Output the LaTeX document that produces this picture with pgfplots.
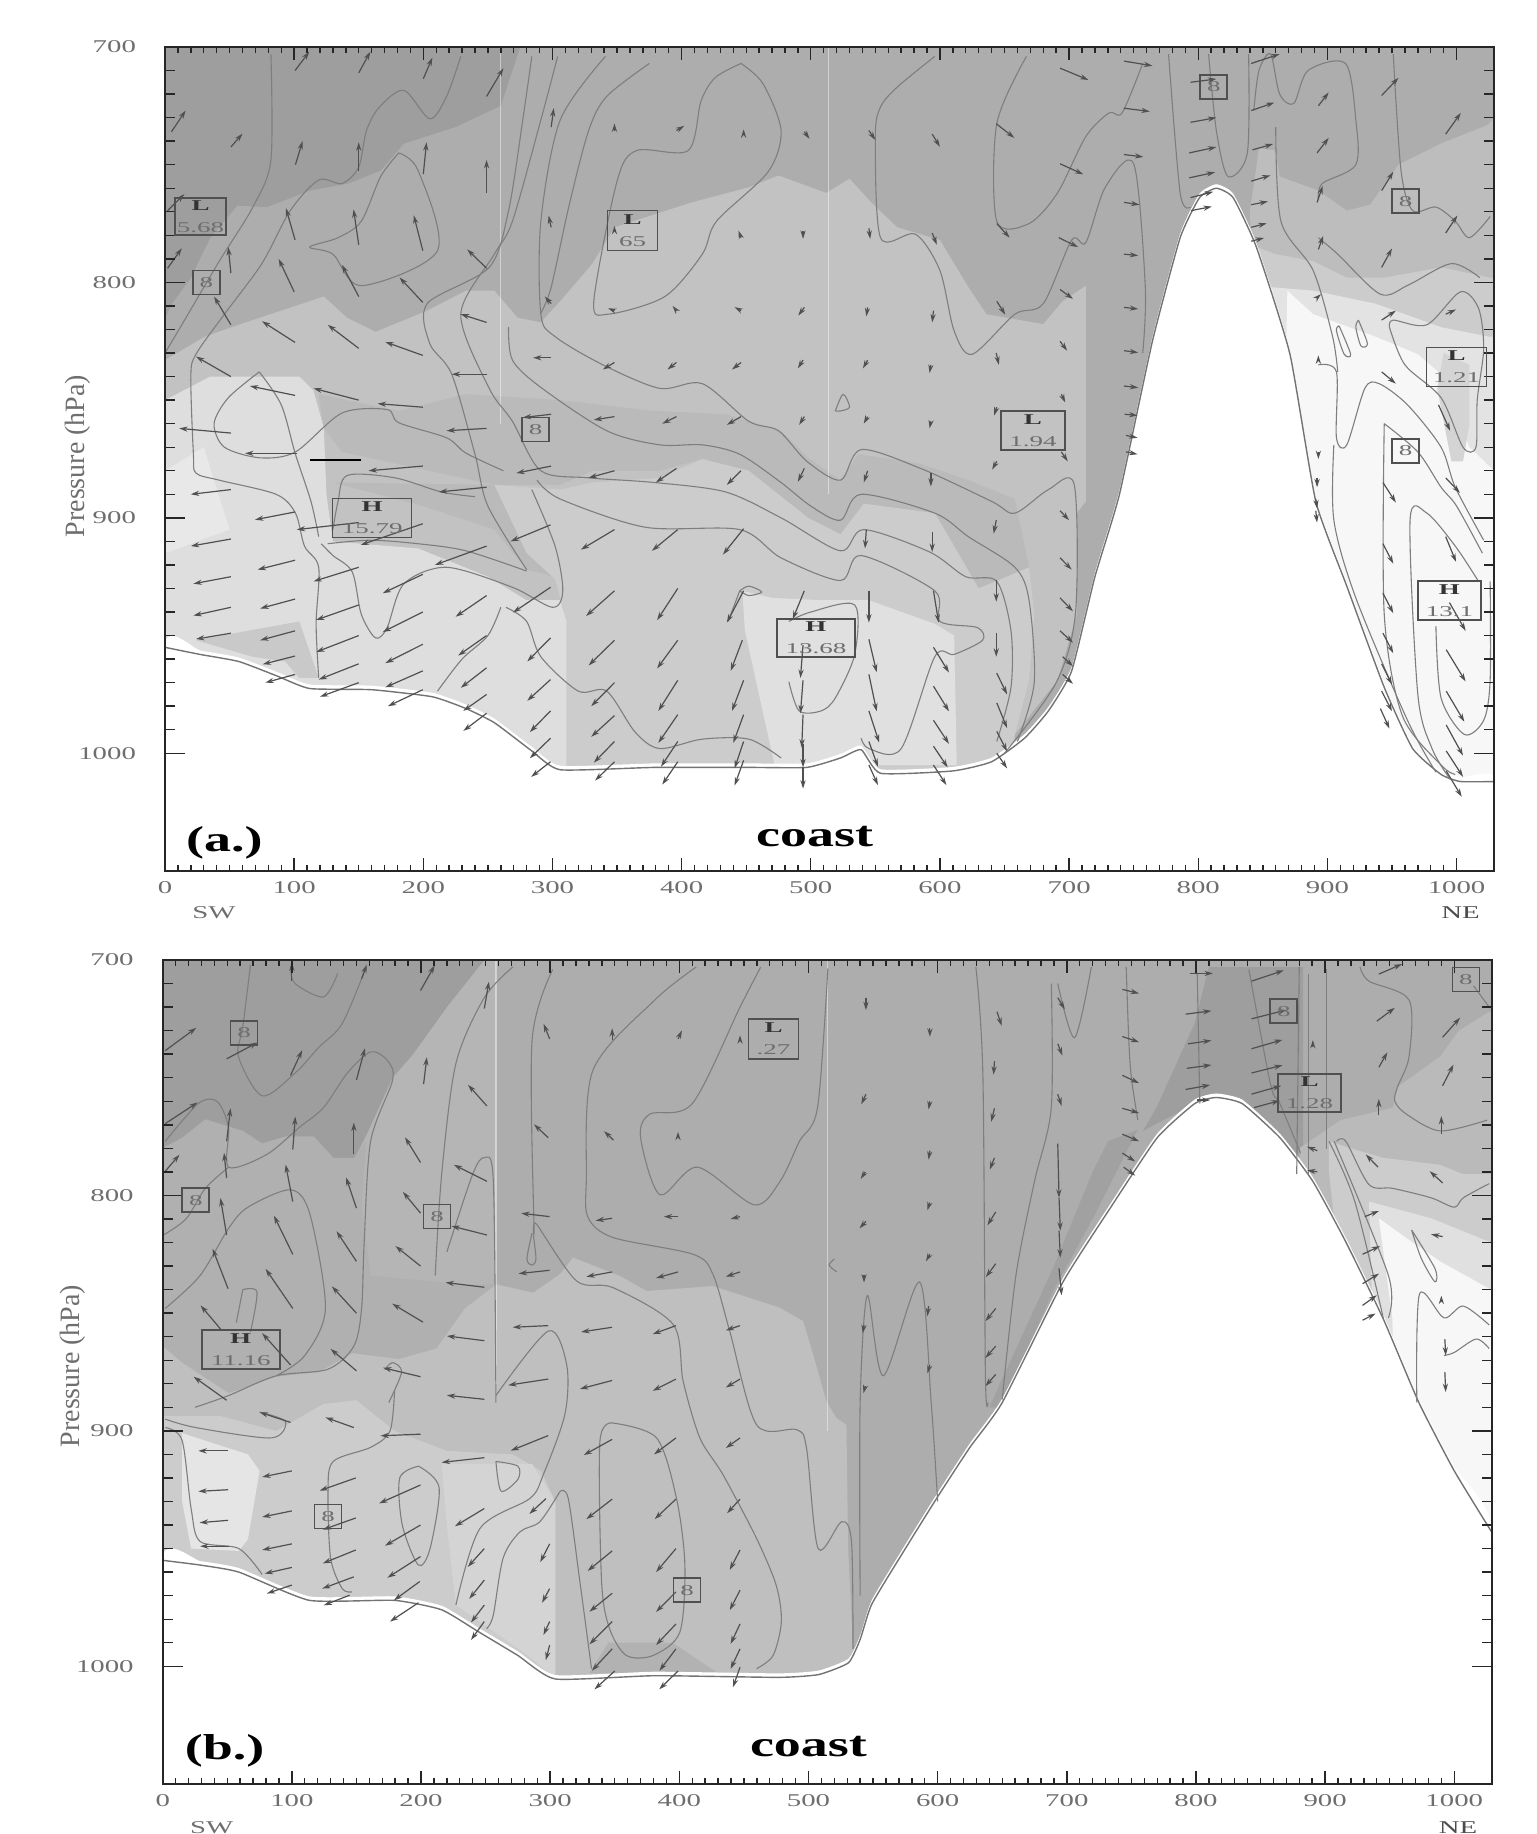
\documentclass[border=0pt]{standalone}
\usepackage{fontspec}
\setmainfont{Liberation Serif}
\usepackage{graphicx}
\usepackage{pgfplots}
\usepackage{pgfplotstable}
\pgfplotsset{compat=1.18}
\usetikzlibrary{arrows.meta}
\definecolor{tlab}{HTML}{6E6E6E}
\definecolor{ctr}{HTML}{7E7E7E}
\definecolor{arw}{HTML}{505050}
\definecolor{boxc}{HTML}{505050}
\newcommand\tl[1]{\scalebox{1.6}[1]{\fontsize{9}{10}\selectfont\color{tlab}#1}}
\newcommand\nm[1]{\scalebox{1.8}[1]{\fontsize{7.5}{8}\selectfont\color{tlab}#1}}
\newcommand\lt[1]{\scalebox{1.8}[1]{\fontsize{7.5}{8}\selectfont\bfseries\color{black!80}#1}}
\newcommand\layer[2]{\addplot[fill=#1,draw=none] coordinates {#2} -- cycle;}
\newcommand\ct[1]{\addplot[ctr,line width=.55pt,smooth,tension=.5] coordinates {#1};}
\newcommand\bxe[2]{\node[draw=boxc,line width=.8pt,minimum width=13.5pt,minimum height=12pt,inner sep=0pt] at (axis cs:#1,#2) {\nm{8}};}
\newcommand\bxl[6]{\node[draw=boxc,line width=.8pt,minimum width=#3pt,minimum height=#4pt,inner sep=0pt,align=center] at (axis cs:#1,#2) {\lt{#5}\\[-1pt]\nm{#6}};}
\pgfplotsset{
 base/.style={scale only axis,width=664.5pt,height=412pt,xmin=0,xmax=1029,ymin=700,ymax=1050,y dir=reverse,
   axis line style={black!85,line width=.9pt},tick align=inside,tick style={black!85,line width=.7pt}},
 main/.style={base,axis on top,xtick={0,100,...,1000},minor x tick num=9,ytick=\empty,major tick length=6.5pt,minor tick length=2.8pt,
   xticklabels={\tl{0},\tl{100},\tl{200},\tl{300},\tl{400},\tl{500},\tl{600},\tl{700},\tl{800},\tl{900},\tl{1000}},
   xticklabel style={yshift=-1.5pt},xtick pos=both,xticklabel pos=bottom},
 over/.style={base,clip=false,xtick=\empty,ytick={700,800,900,1000},minor y tick num=9,major tick length=10pt,minor tick length=5pt,
   yticklabels={\tl{700},\tl{800},\tl{900},\tl{1000}},yticklabel style={xshift=-11pt},ytick pos=both,yticklabel pos=left},
 quiv/.style={arw,line width=.6pt,quiver={u=\thisrow{u},v=\thisrow{v},every arrow/.append style={-{Stealth[length=4.2pt,width=2.6pt]}}}}
}
\pgfplotstableread{
x y
0 1060
0 955
27 958
57 961
86 967
112 972.5
160 973
207 976
233 981
255 987
284 999
306 1007
379 1006
452 1006
497 1006
523 1002
539 998.5
554 1008.5
610 1007.5
640 1003.6
665.5 993.6
684 982
702 965
720 925
739 890
764.5 825
786 781
801 764
814 760
827 764
845 785
871 830.5
891 893
915 929
944 972
966 998
988 1009
1003 1012
1029 1012
1029 1060
}\terrA
\pgfplotstableread{
x y
0 1060
0 955
29 957
59 960
113.6 972
179.5 972
216 976
245 985.5
275 995.4
304 1005.4
381 1004
477 1004.7
508 1003.5
531 998.5
540 988.6
549 973.6
575 950
600 928
625 907
650 888
697 836.8
733.6 805.4
770 775.5
799 761
815.7 758.4
835.8 761
865 775.5
890.5 794
916 819.7
945 852.4
972.6 888
1000 917
1029 943
1029 1060
}\terrB
\pgfplotstableread{
x y u v
100.7 710 11 -8
150 711 9 -9
200 713.5 7 -9
249 721 13 -12
5 736 11 -9
51 742.5 9 -5.7
101 750 5.5 -10
150 752.5 0 -12
200 754 2.5 -13.5
249 762 0 -14
299 734 2 -8
348 735.5 0 -3
396 735.5 6 -2
448 736 0 -1
2 769.5 13 -7
100.7 782 -7 -13.5
150 784 -4 -15
199.6 786.5 -7 -15
249 794 -15 -8
299 776.6 -2 -5
348 778 0 -2
446 781 -2 -3
2 794 11 -8.5
51 796 -2 -11
100 804 -12 -14
150 806 -13 -13.5
199.6 808.5 -18 -10.6
249 817 -20 -3.5
299 809 -5 -3
348 812 -5 -1
396 812 -3 -2
446 812 -5 -1.5
51 818 -13 -12
100.7 825.5 -25.6 -9
150 828 -24 -10
199.6 831 -29 -5.7
299 832 -14 0
348 834 -9 3
396 834 -7 3
446 834 -7 3
51 840 -27 -8.5
100.7 848 -35 -4
150 850 -35 -5
199.6 853 -35 -1.5
249 839 -27 0
51 864 -40 -2
102 872.6 -40 0
249 862 -31 1
299 856 -22 1.4
348 857 -16 1.4
396 857 -11 3
446 857 -11 3.5
199.6 878 -42 2
299 878 -27 3
348 880 -20 3
396 879 -16 6
446 880 -11 6
51 888 -31 2
249 887 -37 2
100.7 897.5 -31 3.3
199.6 902.5 -48 9
150 902 -48 3
298.5 903 -31 7
348 905 -26 8.5
397 905 -20 9
448 904.6 -16 11
51 909 -31 3
249 912 -40 8
100.7 918 -29 4
150 921 -35 6
199.6 924 -31 8
298.5 929.5 -29 10.7
348 931 -22 10.7
397 930 -16 13.5
448 931 -13 13.5
51 925 -29 3
249 933 -24 9
100.7 934.5 -27 4
150 937 -33 6.4
199.6 940 -31 8.5
298.5 951 -18 10
348 952 -20 10.7
397 952 -16 12
447 952 -9 13
51 938 -29 3.5
249 950 -22 8.5
100.7 948 -27 4
150 950 -33 7
199.6 953.7 -29 8
51 949 -27 2.5
249 963.7 -20 8.5
298.5 968.7 -18 9
348 970 -18 10
397 969 -15 13
448 969 -9 13
100.7 958.7 -25 3.5
150 962 -31 6.7
199.6 965 -29 7
100.7 966.5 -23 3.5
150 970 -30 6
199.6 973 -27 7
249 975 -18 7
298.5 982 -16 9
348 984 -18 9
397 983.6 -15 12
448 983.6 -8 12
249 983 -18 7.5
298.5 993.6 -16 8.5
348 995 -16 9
397 995 -13 10.7
448 995 -7 11.4
298.5 1003.6 -15 6.4
348 1003.6 -15 8
397 1003.6 -12 9.7
448 1003 -7 10.7
495 931 -9 12
494 954 -2 14
494 969 -2 14
494 983.6 -1 14
494 996 0 10
494 1006 0 9
543 905 -1 8
545 931 0 13.5
545 951.6 6 14
545 966.5 6 15.7
545 982 8 13.5
545 995 7 10.7
545 1005 7 8.5
594 906 0 8.5
595 931 4 13.5
595 955 12 10.7
595 971.5 12 10.7
595 986 12 10
595 997 11 9
595 1005 10 8.5
643.6 901 -2 5.7
643.6 926.6 0 9
643.6 949 0 10
644 966 8 9
644 978.6 8 10.7
644 990.7 8 8.5
644 1000 8 6.4
693 897 7 4
693 917 9 5
693 934 10 5.7
693 948 10 5
695 959 8 4
695 966.5 8 4
495 736 4 3
494 778 0 3.5
495 810.6 -4.7 3.5
494 833 -4 3.5
495 857 -4 3.5
495 879 -5 5.7
545 735.5 5 4
545 777 1 4.5
544 810.6 -1 3.8
544 833 -3.6 3.5
544 857 -3 3
544 880 -3 5
594 737 6 5.4
594 779 3.6 5
595 812 -1 5
593 835 -1 3.5
593 859 -1 3
593 881 0 5.7
643.6 732.6 14 6
644 775 10 6
644 808 6.6 5.7
643.6 830 2 5
644 853 -2 3.5
644 876 -3.6 3.5
693 709 22 5
693 749.6 18 4.5
692 781 15 4
693 803 10 4
693 825 5.5 4
694 847.5 3 3.5
694 872 5 4
742.5 706 22 2
742.5 726 20 1.4
742.5 745.7 15 1
742.5 766 12 1
742.5 788 11 .6
742.5 810.6 11 .7
742.5 829 11 .8
742.5 844 11 .7
743 856 10 .5
744 865 9 1
744 872 9 1
794 715 20 -1.4
794 732 20 -2
793 745 21 -2.5
793 755.6 20 -2.4
794 764 17.6 -2.5
794.5 769.5 16 -1.7
841 707 22 -4
841 727 18 -3.4
842 743.7 16 -2.5
841 757 15 -2.5
841 767 13 -1.4
841 776.6 12 -1.7
841 782.5 10 -1.4
893 725 8 -5.7
892 745 9 -6.4
892 766 4.4 -7
893 786 3.7 -5.7
893 806 2 -1
893 833 0 -2
893 872 0 3
892 883 0 4
891 892 1 4
891 897 1 5
942 720.6 13 -7.5
942 761 9 -8
942 793.6 8 -8
942 816 11 -4
942 838 11 5
943 885 10 8.5
943 911 8 8.5
943 932 8 8.5
943 949 8 8.5
942 962 8 8.8
942 973.6 8 8.5
941 981 7 8.5
991.6 737 11.7 -9
991.6 779 9 -7.4
991.6 813.5 8 -2
986 852 9 11
991.6 883 11 6.4
991.6 908 8 10.7
994.5 936 12.5 12
992 956 15 13.5
992 973.6 14 13
992 988 13 13
992 999 13 11
992 1007.5 12 11
}\arrowsA
\pgfplotstableread{
x y u v
2 738.5 24 -9.7
49.5 742 24 -7
99 749 9 -10.7
150 751 6.6 -13.5
199.6 713 11 -10.7
249 720.6 3.6 -11.4
299.6 733.5 -4.7 -6.4
348 734 0 -5
399 733.5 3 -3.6
447 733.5 0 -1.5
100 709 0 -8
154 708 4 -6
202 752.7 2.5 -11.4
251 762 -14.6 -9
298.5 775.5 -11 -5.7
349 776.5 -7.3 -3.8
399 775 0 -2
2 769.5 25 -9
49.5 777 3 -14
100.7 780.5 2 -14
148 782.6 0 -13.5
199.6 786 -12 -10.7
251 794 -25.6 -7
2 789.7 11 -7
49.5 792.6 -2 -10.7
100.7 802.6 -5.5 -15.7
150 805.4 -8 -13
199.6 807.5 -13.6 -9
251 816.8 -27.5 -3.8
299.6 809 -22 -1.4
348 809.7 -12.8 1
399 809 -11 0
447 809 -7.3 1
49.5 816.8 -4.8 -15.7
100.7 825 -14.6 -16.4
150 828 -15.4 -12.8
199.6 830 -19.4 -8.5
249 839 -30 -2
299.6 831.8 -24 1.4
348 832.5 -20 2
399 832.5 -17 2.6
447 832.5 -11 2
50.6 839.6 -12 -17
100.7 848 -21 -16.8
150 850 -19 -11.4
201.5 853.8 -23.8 -7.8
249 861.7 -29 -2
298.5 855.3 -27.5 .7
348 856 -24 2
397.4 855.3 -18 3.6
447 855.3 -11 2
45.8 857.4 -16.5 -10.7
99 872 -22 -13.5
150 874.5 -20 -9.3
199.6 877 -29 -3.8
249 886.6 -29 -1.7
298.5 878 -31 2.6
348 878.6 -25 3.6
397.4 878 -18 5
447 878 -11 3.6
49.5 887 -25.6 -10
99 896.4 -24 -4.3
148 898.6 -22 -4.3
199.6 901.4 -31 .7
298.5 902 -29 6.4
348 903.6 -22 6.7
397.4 903 -17 7
447 903 -11 4.3
50.6 908.5 -23 0
249 911.4 -33 2
100 917 -23 2.6
149.5 920 -28 5.4
199.6 923 -32 7.8
296.7 928.8 -12.8 6.5
348 929 -20 8.5
397.4 929 -16.5 8.5
447 929 -10 6
50.6 925 -23 .7
249 933 -22.7 7.5
100 934 -23 2.6
149.5 937 -25.6 5
199.6 940 -27.5 8.8
299.6 948 -7.3 7.8
348 951 -19 8.5
397.4 950 -15.4 10
447 950.6 -8 8.5
50.6 938 -22 1
249 950 -12.8 7.8
100 948 -23 2.6
149.5 950.6 -25.6 5.7
199.6 953.4 -25.6 9
51 949 -22 0
100 958 -21 2.6
148 962 -24.5 5
199 964 -20 8
249 963.4 -11.7 8
299.6 967 -5.9 6
348 969 -17.6 7.8
397.4 968.4 -15.4 8.5
447 967.7 -8 8.5
100 965.5 -19.4 3.6
144.7 969.8 -20 4.3
198 973 -22 8
249 974 -10.3 7.4
299.6 981 -4.8 5.7
348 981 -17.6 9.7
397.4 982 -15.4 9
447 982 -7.3 8.5
249 981 -10.3 7.8
299.6 991 -3 6.4
348 992.6 -15.7 9.3
397.4 992.6 -12.8 9.3
447 992.6 -7.3 8.5
350 1002 -15.7 7.8
399 1002 -14.6 7.8
447 1000.4 -5.5 8.5
544.5 716 0 5.3
544.5 757 -3.6 4.3
544 790 -3.6 3
544.5 811 -5 3
543 834 0 3
543 855 -1 3.5
544 881 -1.5 3
594 729 0 3.6
594 760 -1 3.5
594 781 -1 3.8
594 803 -2 3.3
594 825 -3 3
593 847 -1 4.3
594 872 -2 3.6
646 722 3.6 6
644 743 -.7 5.7
644 763 -2.5 5.7
644 784 -3.6 5
645 807 -6.5 5.7
645 829 -7.7 5.7
645 848 -8 5.4
645 864 -8 5
645 876 -8 5
693 716 5.5 5
693 735.6 3.6 5
693 757 3 5
693 778 1 23
694 801 1 14
694 815 1 11.4
694 831 2 11.4
743 712.5 13 1.7
743 732.5 13 2.4
743 749 13 3.3
743 763 13 2
743 774 13 3
743 782 10 3.6
744 788 9 3.6
795.6 705.7 17.5 0
792 723 20 -1.4
794 735.6 18 -1.4
793 746 19 -1.4
792 755 19 -1.9
801 759.5 10 0
843 709 25 -4.6
843 725 27 -3.8
843 737.7 24 -3.8
843 748 24 -3.3
843 757 23 -3.6
845 762.7 20 -3
890.5 737 0 -3
894 781 -8 -1.7
894 790 -8 -.7
940 726 14 -5.7
941.6 745.6 6.6 -6.4
941.6 766 0 -7
941 788 -9.5 -5.4
930.7 809 11 -2.4
929 825 13.5 -3.5
929 837.5 12.8 -4.3
929 846.7 11 -4.3
929 853 10 -2.8
941.6 706 18 -4.3
991 732.8 13.5 -8.3
991 753.4 8.4 -9
990 773.8 0 -7.5
991 794.7 -10 -5
991 817.5 -9 -1
990 844.6 0 -2
992.7 861 .7 7
992.7 875 .7 8.5
}\arrowsB
\begin{document}
\begin{tikzpicture}[x=1pt,y=1pt]
\path[use as bounding box] (0,0) rectangle (768,917);
% ---------- panel a ----------
\begin{axis}[main,anchor=south west,at={(82.5pt,481.5pt)}]
\layer{black!32}{(0,700)(1029,700)(1029,1050)(0,1050)}
\layer{black!38}{(0,700)(275,700)(260,725)(225,734)(185,741)(167,752.5)(142,758)(112,761)(79,768)(56,767.4)(35,781)(20,798)(5.5,809)(0,815)}
\layer{black!24}{(0,833)(31,823)(57,818)(123,806)(141,815)(163,821)(203,812)(233,803.5)(255,803.5)(273,815)(291,817)(306,808)(331,792)(348,776.6)(408,766)(452,759.6)(475,754.6)(512,762)(530,756)(548,766.7)(567,776.6)(600,782)(622,802)(636,813.5)(680,817.7)(695,808)(713,801.4)(713,893)(706,898)(706,941)(691,969)(658,992)(650,1050)(0,1050)}
\layer{black!27}{(119,847.5)(181,854.6)(233,847.5)(306,850)(379,854.6)(434,856)(477,863)(498,874.5)(523,884)(537,873)(585,877)(622,884)(658,892)(669,921)(630,930)(596,898)(541,894)(523,907)(498,900)(452,885)(416,875)(383,880)(331,880)(306,886)(255,886)(196,879)(137,872)(123,862)}
\layer{black!27}{(130,885)(200,895)(255,905)(280,922)(302,925)(302,900)(255,886)}
\layer{black!13}{(0,850)(35,840)(104,840)(115,846)(123,862)(125,890)(130,910)(196,913)(250,925)(280,935)(306,935)(311,944)(311,1050)(0,1050)}
\layer{black!9}{(0,880)(30,870)(50,905)(0,915)}
\layer{black!21}{(24,952)(104,944)(119,968)(104,968)(93,961)(68,959)}
\layer{black!20}{(255,886)(306,888)(331,885)(383,883)(416,875)(452,880)(498,900)(523,907)(541,894)(596,898)(611,912)(630,930)(669,921)(673,941)(669,969)(658,992)(640,1050)(311,1050)(311,944)(302,926)(280,915)}
\layer{black!12}{(447,931)(470,934)(510,935)(545,935)(596,945)(611,950)(613,1005)(472,1005)(449,948)}
\layer{black!26}{(847,743)(860,744)(863,755)(893,761)(915,769.5)(933,767)(955,750)(988,741)(1024.5,733)(1029,730)(1029,1050)(860,1050)(840,770)}
\layer{black!20}{(845,785)(860,788)(889,791)(915,798)(944,798)(988,793.6)(1026,798)(1029,798)(1029,1050)(860,1050)}
\layer{black!11}{(856,802)(889,803.5)(937,809)(988,819)(1024.5,823)(1029,823)(1029,1050)(860,1050)}
\layer{black!3}{(869,803.5)(889,813.5)(937,823)(970,830.5)(988,839)(1010,870)(1029,880)(1029,1050)(860,1050)}
\layer{black!17}{(990,830)(1010,835)(1010,860)(1005,876)(996,876)(985,845)}
\addplot[white,opacity=.45,line width=.6pt] coordinates {(260,700)(260,860)};
\addplot[white,opacity=.45,line width=.6pt] coordinates {(513.6,700)(513.6,890)};
\addplot[fill=white,draw=none,yshift=2pt,smooth,tension=.3] table {\terrA} -- cycle;
\addplot[black!55,line width=.7pt,smooth,tension=.3,restrict y to domain=700:1050] table {\terrA};
\ct{(82,703)(82,748)(68,768)(42,791)(13,818)(0,830)}
\ct{(229,704)(218,721)(205,730.5)(185,718.4)(166,725.5)(156,735.5)(150,751)(137,758)(119,756.5)(97,769.5)(75,792)(46,813.5)(24,830.5)(20,840)(22,873)(24,881)(42,884)(86,890)(101,898)(108,912)(119,921)(117,945)(119,968)}
\ct{(181,745)(196,752.5)(211,786.5)(152,801.4)(130,788)(112,785)(134,781)(152,774)(167,755)(181,745)}
\ct{(284,704)(277,731)(266,769.5)(251,793.6)(203,809)(205,826)(222,839)(240,873)(250,895)(280,922)}
\ct{(304,704)(291,731)(269,774)(255,788)(229,813.5)(251,845)(269,859)(291,880)(328,883)(379,885)(434,889)(477,900)(523,914)(541,905)(592,914.5)(620,925)(644,927)(655,948)(655,972)(644,995)}
\ct{(284,888)(302,912)(308,931)(300,938)(269,929.5)(218,921)(185,928)(172,946.6)(163,951)(152,941)(145,923)(130,916)(121,911)}
\ct{(126,911)(159,909.5)(196,911)(233,914)(280,922.6)}
\ct{(341,704)(306,731)(291,774)(291,813.5)(302,823)(339,835)(383,845)(416,843)(452,859)(475,863)(497,876)(523,884)(539,871)(585,879)(640,893)(658,898)(684,888)(704,886)(705,940)(690,970)(650,1000)}
\ct{(375,707)(342,721)(328,735.5)(313,767)(299,802)(291,813)}
\ct{(446,707)(426,713)(415,723)(405,744)(365,744)(350,757)(332,808)(343,813.5)(387,806)(416,788)(427,774)(467,753)(477,735.5)(463,715.6)(446,707)}
\ct{(596,704)(567,717)(554,725.5)(550,738)(554,781)(581,779.5)(600,795)(611,820.6)(625,830.5)(658,813.5)(680,809)(702,782)(713,783)(728,759.6)(750,749.6)(759,802)(757,830)}
\ct{(667,704)(644,732.6)(644,774)(669,775)(691,762)(713,738)(731,728)(741,728)(757,707)}
\ct{(777,703)(786,762)(794,768)}
\ct{(808,703)(814,735.5)(823,755)(838,745)(839,703)}
\ct{(843,727)(847,710)(856,703)(863,720)(874,724)(885,710)(914,707)(922,731)(922,750)(896,758)(893,765)}
\ct{(951,703)(957,752.5)(966,769.5)(984,768)(999,774)(1010,781)(1026,772)}
\ct{(893,781)(908,788)(941,805)(963,801)(996,792)(1018,798)}
\ct{(860,734)(864,774)(889,795)(904,823)(908,838)}
\ct{(948,819)(951,816)(977,818)(1003,804)(1017,811)(1021,828)(1016,850)(1015,870)(1005,870)(988,849)(960,835)(948,819)}
\ct{(909,818.4)(918,830.5)(913,830.5)(907,820.6)(909,818.4)}
\ct{(924,816)(931,826)(926,827)(922,819)(924,816)}
\ct{(893,835)(907,838)(907,866)(915,869)(929,845)(940,843)(962,852)(988,870)(999,887)(1021,909.5)}
\ct{(905,869)(905,901)(922,934)(962,986)(984,1008)}
\ct{(944,860)(944,941)(958,984)(988,1005)(999,1009)}
\ct{(944,860)(970,872)(988,887)(1000,895)(1020,915)}
\ct{(995,1011)(981,998)(970,975)(964,901)(977,898)(999,912)(1017,927)}
\ct{(984,946)(988,976.5)(1006,992)(1021,986)(1026,969)(1026,927)}
\ct{(260,938)(250,950)(230,960)(211,973.6)}
\ct{(264,938)(280,944)(291,959)(320,973.6)(342,973.6)(364,991)(383,998)(416,994)(452,994)(477,1002)}
\ct{(266,819)(269,833)(291,844.6)(342,863)(383,869)(416,869)(445,873)(477,885)(500,895)(523,901)(539,890)(596,898)(622,908)(658,921)(669,935)(673,970)(660,995)}
\ct{(288,884)(306,892)(372,904)(445,905)(477,917)(523,926.6)(539,916)(596,931)(600,944)(629,946.6)(633,952)(611,958)(596,959)(570,998)(545,998)(539,993.6)}
\ct{(483,944)(500,940)(534,937)(534,958)(519,976.5)(508,982)(491,982)(483,969.6)}
\ct{(445,931)(452,929)(462,931.5)(452,933)(445,931)}
\ct{(445,931)(436,944)}
\ct{(519,854.6)(525,847.5)(530,853)(523,854.6)(519,854.6)}
\ct{(73,838)(49,849)(38,860)(46,870)(73.5,874.5)(101,872)(137,855.5)(172,854)(181,859.6)(218,866)(233,872.5)(262,880)}
\ct{(73,838)(90,852)(101,873)(113,893)(119,908)}
\ct{(130,905)(134,893)(141,882)(178,883)(214,889)(240,891)}
\addplot[quiv] table {\arrowsA};
\addplot[black,line width=1pt] coordinates {(152,875.5)(112,875.5)};
\end{axis}
\begin{axis}[over,anchor=south west,at={(82.5pt,481.5pt)}]
\addplot[draw=none,forget plot] coordinates {(0,700)(1029,1050)};
\node[draw=boxc,line width=.8pt,minimum width=25.5pt,minimum height=18.5pt,inner sep=0pt,align=center] at (axis cs:27.5,772) {\lt{L}\\[-1pt]\nm{5.68}};
\bxl{362}{778}{25}{20}{L}{65}
\bxe{32}{800}
\bxe{287}{862.5}
\bxl{160.4}{900}{39.5}{19.5}{H}{15.79}
\bxe{812}{717}
\bxl{672}{863}{32}{19.5}{L}{1.94}
\bxl{1000}{836}{30}{19.5}{L}{1.21}
\bxe{960.5}{765.5}
\bxe{960.5}{871.6}
\bxl{994.5}{935}{31.5}{19.5}{H}{13.1}
\bxl{504}{951}{39}{19}{H}{13.68}
\node[anchor=center] at (axis cs:46,1038) {\scalebox{1.5}[1]{\fontsize{18}{20}\selectfont\bfseries (a.)}};
\node[anchor=center] at (axis cs:503,1035.5) {\scalebox{1.5}[1]{\fontsize{18}{20}\selectfont\bfseries coast}};
\node[anchor=center] at (axis cs:38,1067.7) {\tl{SW}};
\node[anchor=center] at (axis cs:1003,1067.7) {\scalebox{1.6}[1]{\fontsize{9}{10}\selectfont\color{black!70}NE}};
\end{axis}
% ---------- panel b ----------
\begin{axis}[main,anchor=south west,at={(81.35pt,25pt)}]
\layer{black!32}{(0,700)(1029,700)(1029,1050)(0,1050)}
\layer{black!29}{(0,700)(258,700)(258,838)(234,848)(212,865)(0,865)}
\layer{black!38}{(0,700)(249,700)(220,720)(194,739.9)(178,750)(158,774)(148.7,784)(132,784)(117,775)(95,775)(77,778)(62,772.6)(33,767.7)(15,775.6)(0,779.8)}
\layer{black!31}{(0,780)(15,775.6)(33,767.7)(62,772.6)(77,778)(95,775)(117,775)(132,784)(148,784)(157.5,777)(154,805)(161,834)(234,838)(258,837.5)(234,848)(212,865)(183,869.5)(146.5,866.7)(121,875)(88,876.6)(51,883.8)(15,871)(0,863.8)}
\layer{black!25}{(0,864)(15,871)(51,884)(88,877)(121,875)(146.5,867)(183,869.5)(212,865)(234,848)(258.5,837.8)(286.9,841.3)(307.5,833.5)(317.8,826.4)(354,834.2)(374.6,840.6)(426,838.5)(477.8,847.7)(495.9,853.4)(503.6,867.6)(513.9,887.5)(521.7,894.6)(529.4,897.4)(530.7,950)(534.5,992.6)(540,1050)(0,1050)}
\layer{black!30}{(345,990)(395,990)(430,1003)(330,1003)}
\layer{black!20}{(0,893.6)(44,893.6)(88,900)(124.5,888.6)(150,887)(179.5,900)(220,908.5)(271,910)(293,917)(304,930)(304,1050)(0,1050)}
\layer{black!17}{(216,914)(286,914)(304,930)(304,1005)(282,995)(227,974)(220,940)}
\layer{black!10}{(15,901)(66,910)(75,917)(66,946)(59,951)(22,950)(15,930)}
\layer{black!38}{(810,703)(883,703)(883,785)(865,775)(799,761)(759,772.6)(770,762)(799,727)}
\layer{black!37}{(732,777)(755,772)(720,810)(690,840)(650,890)(640,890)(690,830)(720,790)}
\layer{black!27}{(912,768)(952.5,762.7)(956,754)(989,741)(1003.6,730)(1027,722)(1029,722)(1029,1000)(900,1000)(880,780)}
\layer{black!20}{(903,777)(920,780)(945,784)(989,787)(1007,791)(1029,791)(1029,1000)(945,1000)(903,790)}
\layer{black!12}{(934,802.6)(982,809.7)(1027,819.7)(1029,820)(1029,1000)(945,1000)}
\layer{black!3}{(941.6,809.7)(967,819.7)(989,828)(1027,839.6)(1029,840)(1029,1000)(960,1000)(952,852)}
\addplot[white,opacity=.45,line width=.6pt] coordinates {(258,700)(258,880)};
\addplot[white,opacity=.45,line width=.6pt] coordinates {(514.6,700)(514.6,900)};
\addplot[fill=white,draw=none,yshift=2pt,smooth,tension=.3] table {\terrB} -- cycle;
\addplot[black!55,line width=.7pt,smooth,tension=.3,restrict y to domain=700:1050] table {\terrB};
\ct{(135.5,705.7)(124.5,715.7)(102.5,710)(99,703)}
\ct{(68,702)(62,728.5)(58.6,741)(77,757.7)(102.5,748)(121,737)(139,727)(157.5,703)}
\ct{(2,777)(27.5,761)(42,760)(51,771)(51,788)(80.6,782.6)(106,771)(124.5,762.7)(143,748)(161,739)(174,742.7)(178,751)(161,777)(156,819.7)(154,848)(148,864)(128,873.8)(88,876.6)(51,885)(25,890)}
\ct{(2,895)(25.6,898.6)(84,903)(95,896)(75,892)}
\ct{(0,817)(18,810)(33,797)(51,788)}
\ct{(2,848)(29,834)(51,814)(66,805)(99,797.6)(114,808)(126,848)(110,868)(88,876.6)}
\ct{(62,840)(57,854)}
\ct{(62,840)(73,841)(68,858)}
\ct{(271,703)(249,716)(227,744)(216,791)(211,834)}
\ct{(220,824)(240,791)(249,784)(256,794)(258,888)}
\ct{(302,704)(286,734)(287.5,812.5)(289.5,812.2)(320.4,836.3)(348.8,839.2)(395.2,854.8)(403,879)(415.9,903)(433.9,918.7)(459.8,945.7)(475,965.6)(479,981)(472.6,995.4)(459.8,1001)}
\ct{(286,816)(282,827)(286,829.6)(289,827)(287,817)}
\ct{(413,703)(381,717)(333,747)(328,793.7)(329.4,809.4)(348.8,817.9)(410.7,825)(426,833.5)(439,857.6)(459.8,897.4)(490.8,899.5)(498.5,907.4)(507.5,950)(525.6,938.6)(533.3,947)(534.5,992.6)}
\ct{(463,703)(447,720)(410,761)(377,765.5)(370,775.5)(385,799.7)(414,788)(458,804)(478,794)(493,777)(507,762.7)(515,703.6)}
\ct{(258,885)(298.5,857.6)(312.8,871.9)(311.4,893)(294.6,918.7)(284.3,928.7)(245.6,941.5)(227,974)}
\ct{(307.5,925.8)(292,938.6)(276.6,942.9)(263.6,954)(255.9,978.4)(250.8,984)}
\ct{(307.5,925.8)(314,928.7)(323,964)(332,1001)}
\ct{(348.8,896.7)(338.5,904.5)(339.8,964)(346,984)(359,995.4)(379.7,995.4)(400.4,985.5)(404.3,957)(397.8,928.7)(382.4,903)(348.8,896.7)}
\ct{(198,915)(183.5,920)(185.5,940)(198,957)(207,950)(214,924)(198,915)}
\ct{(258,913)(275,915)(275,920.6)(262,925.6)(258,913)}
\ct{(179.5,883)(176,900)(161,907)(132,913)(128,926)(130,954)(139,967)(146.5,968.4)}
\ct{(2,898.6)(15,904)(22,933)(29,947)(59,950)(77,961)}
\ct{(172,874)(178,871)(185,875)(175,888)}
\ct{(629.6,703)(635,748)(637,876.6)(639,888)}
\ct{(693,710)(706,733)(719,703)}
\ct{(688,710)(688,762.7)(675,794)(660.6,834)(650,886.6)}
\ct{(746,703)(748,734)(750,750)(755,768)}
\ct{(801,706)(803,761)}
\ct{(841,704)(857.7,752.7)(865,761)(881,782)}
\ct{(880,703)(878,791)}
\ct{(887,706)(887,791)}
\ct{(901,704)(901,780)}
\ct{(927,703)(934,709)(965,717)(965,741)(956,754)(954,760)(963,765.5)(989,772.6)(1025.5,768)}
\ct{(1015,711)(1027,720)}
\ct{(909,777)(916,777)(934,795.4)(952.5,797)(982,801)(1000,805)(1007,801)(1027,795)}
\ct{(903,777)(923,802.6)(945,852)}
\ct{(907,777)(949,834)(949,852)}
\ct{(967,814.7)(985,831)(985,836.7)(974.5,826.8)(967,814.7)}
\ct{(971,888)(973,842)(992,852)(1007,847)(1027,855)}
\ct{(992,868)(1000,866.7)(1017,861)(1027,865)}
\ct{(520,827)(516,829.6)(522,832.5)}
\ct{(540,970)(540,888)(545.6,842.5)(558,876.6)(586,836.8)(595,888)(600,930)}
\addplot[quiv] table {\arrowsB};
\end{axis}
\begin{axis}[over,anchor=south west,at={(81.35pt,25pt)}]
\addplot[draw=none,forget plot] coordinates {(0,700)(1029,1050)};
\bxe{63}{731}
\bxe{25.6}{802}
\bxe{212.5}{809}
\bxl{60.4}{865.4}{39}{19.5}{H}{11.16}
\bxl{473}{733.5}{25}{20}{L}{.27}
\bxe{128}{936.3}
\bxe{406}{967.7}
\bxe{868}{721.7}
\bxl{888}{756.4}{31.5}{19}{L}{1.28}
\bxe{1009}{708.3}
\node[anchor=center] at (axis cs:48,1036) {\scalebox{1.5}[1]{\fontsize{18}{20}\selectfont\bfseries (b.)}};
\node[anchor=center] at (axis cs:500,1034) {\scalebox{1.5}[1]{\fontsize{18}{20}\selectfont\bfseries coast}};
\node[anchor=center] at (axis cs:38,1068.5) {\tl{SW}};
\node[anchor=center] at (axis cs:1003,1068.5) {\scalebox{1.6}[1]{\fontsize{9}{10}\selectfont\color{black!70}NE}};
\end{axis}
\node[rotate=90,text=tlab,anchor=center] at (39,689) {\fontsize{14}{16}\selectfont Pressure (hPa)};
\node[rotate=90,text=tlab,anchor=center] at (36.3,234) {\fontsize{14}{16}\selectfont Pressure (hPa)};
\end{tikzpicture}
\end{document}
